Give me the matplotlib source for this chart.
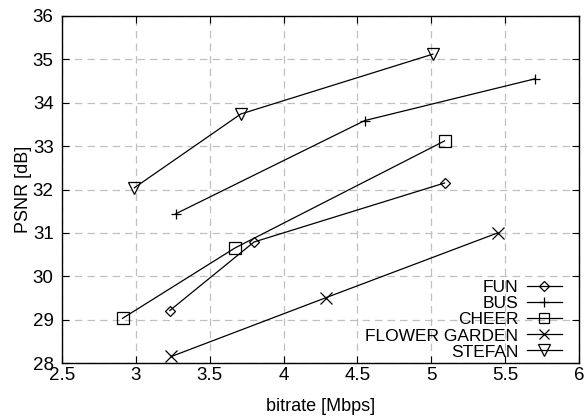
import numpy as np
import matplotlib.pyplot as plt

plt.rcParams['font.family'] = ['Liberation Sans', 'DejaVu Sans']

# PSNR vs bitrate for each test sequence
fun_x = [3.23, 3.80, 5.09]
fun_y = [29.21, 30.79, 32.15]
bus_x = [3.27, 4.55, 5.70]
bus_y = [31.44, 33.59, 34.55]
cheer_x = [2.91, 3.67, 5.09]
cheer_y = [29.03, 30.65, 33.12]
flower_x = [3.24, 4.29, 5.45]
flower_y = [28.15, 29.51, 31.00]
stefan_x = [2.99, 3.71, 5.01]
stefan_y = [32.04, 33.74, 35.12]

names = ['FUN', 'BUS', 'CHEER', 'FLOWER GARDEN', 'STEFAN']
xs = [fun_x, bus_x, cheer_x, flower_x, stefan_x]
ys = [fun_y, bus_y, cheer_y, flower_y, stefan_y]
markers = ['D', '+', 's', 'x', 'v']
msizes = [5.5, 7.5, 8.5, 8, 9]

fig = plt.figure(figsize=(5.87, 4.16), dpi=100)
ax = fig.add_axes([62/587, 1-363/416, (579-62)/587, (363-16)/416])

for i in range(len(names)):
    ax.plot(xs[i], ys[i], color='black', linewidth=0.9, marker=markers[i],
            markersize=msizes[i], markerfacecolor='none', markeredgecolor='black',
            markeredgewidth=0.9, label=names[i])

ax.set_xlim(2.5, 6)
ax.set_ylim(28, 36)
ax.set_xticks(np.arange(2.5, 6.01, 0.5))
ax.set_xticklabels(['2.5', '3', '3.5', '4', '4.5', '5', '5.5', '6'])
ax.set_yticks(np.arange(28, 36.1, 1))
ax.tick_params(direction='in', top=True, right=True, labelsize=13.5, length=5)
ax.tick_params(axis='x', pad=3)
ax.tick_params(axis='y', pad=6)
ax.grid(True, color='#c0c0c0', linestyle=(0, (6, 4)), linewidth=0.9)
for s in ax.spines.values():
    s.set_linewidth(1.0)

ax.set_xlabel('bitrate [Mbps]', fontsize=13, labelpad=10)
ax.set_ylabel('PSNR [dB]', fontsize=13, labelpad=0.5)

leg = ax.legend(loc='lower right', frameon=False, markerfirst=False, fontsize=12.5,
                handlelength=2.0, labelspacing=0.05, borderaxespad=0.0, handletextpad=0.5,
                markerscale=0.9, bbox_to_anchor=(0.98, -0.01))

plt.savefig('out.png', dpi=100)
